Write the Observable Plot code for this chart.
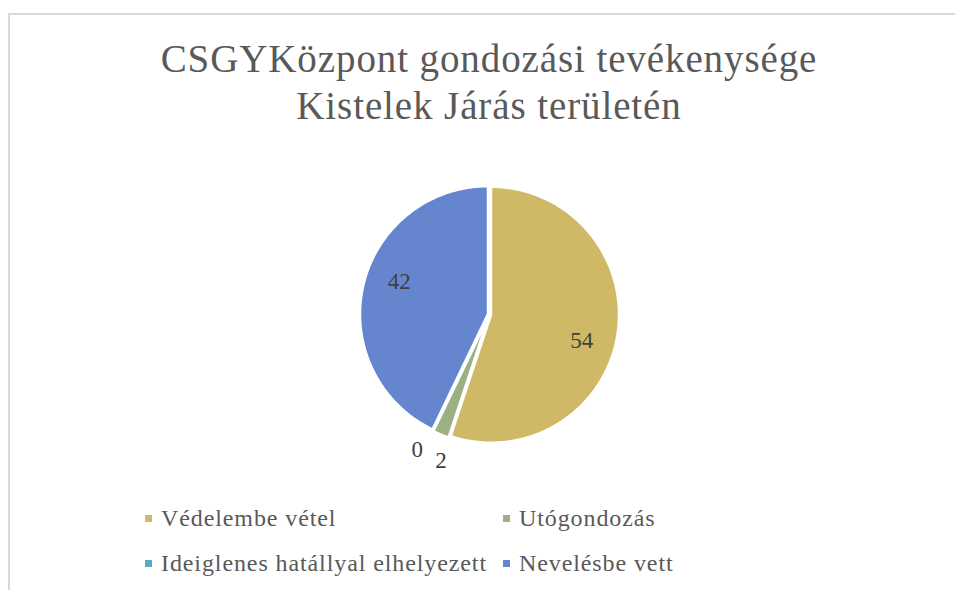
<!DOCTYPE html>
<html><head><meta charset="utf-8">
<script src="https://cdn.jsdelivr.net/npm/d3@7"></script>
<script src="https://cdn.jsdelivr.net/npm/@observablehq/plot@0.6"></script>
<style>
html,body{margin:0;padding:0;background:#fff;overflow:hidden;}
#wrap{width:955px;height:590px;overflow:hidden;position:relative;font-family:"Liberation Serif",serif;}
#frame{position:absolute;left:8px;top:13px;width:990px;height:620px;border-left:2px solid #d9d9d9;border-top:2px solid #d9d9d9;}
#title{position:absolute;left:0;width:978px;top:35px;text-align:center;color:#595959;font-size:39px;line-height:47px;letter-spacing:0.9px;}
#chart{position:absolute;left:0;top:0;}
#legend{position:absolute;left:145px;top:500px;display:grid;grid-template-columns:358px 300px;row-gap:8px;color:#595959;font-size:24px;line-height:37px;letter-spacing:0.9px;}
.item{display:flex;align-items:center;white-space:nowrap;}
.sw{width:7px;height:7px;margin-right:9px;flex:none;}
</style></head>
<body>
<div id="wrap">
<div id="frame"></div>
<div id="title">CSGYKözpont gondozási tevékenysége<br>Kistelek Járás területén</div>
<div id="chart"></div>
<div id="legend"></div>
</div>
<script>
const categories = ["Védelembe vétel", "Utógondozás", "Ideiglenes hatállyal elhelyezett", "Nevelésbe vett"];
const values = [54, 2, 0, 42];
const colors = ["#CFB966", "#9CB183", "#5BAAC8", "#6586CF"];

const arcs = d3.pie().sort(null).value(d => d.value)(categories.map((c, i) => ({cat: c, value: values[i]})));
const explode = 0.012;
const polys = [];
const labels = [];
for (const a of arcs) {
  const mid = (a.startAngle + a.endAngle) / 2;
  const ox = explode * Math.sin(mid), oy = explode * Math.cos(mid);
  if (a.endAngle > a.startAngle) {
    polys.push({cat: a.data.cat, x: ox, y: oy});
    const n = Math.max(2, Math.ceil((a.endAngle - a.startAngle) / 0.02));
    for (let k = 0; k <= n; k++) {
      const t = a.startAngle + (a.endAngle - a.startAngle) * k / n;
      polys.push({cat: a.data.cat, x: ox + Math.sin(t), y: oy + Math.cos(t)});
    }
    polys.push({cat: a.data.cat, x: ox, y: oy});
  }
  const share = a.data.value / d3.sum(values);
  const small = share < 0.05;
  const r = small ? 1.2 : 0.75;
  const ang = small ? a.startAngle + (a.endAngle === a.startAngle ? 0.04 : 0) : mid + 0.12;
  labels.push({x: r * Math.sin(ang), y: r * Math.cos(ang), text: String(a.data.value)});
}

const chart = Plot.plot({
  width: 955, height: 590,
  margin: 0,
  x: {domain: [-1, 1], range: [361, 617], axis: null},
  y: {domain: [-1, 1], range: [442, 186], axis: null},
  color: {domain: categories, range: colors},
  style: {background: "transparent", fontFamily: "Liberation Serif, serif"},
  marks: [
    Plot.line(polys, {x: "x", y: "y", z: "cat", fill: "cat", stroke: "white", strokeWidth: 2.5, curve: "linear-closed"}),
    Plot.text(labels, {x: "x", y: "y", text: "text", fontSize: 23, fill: "#404040"})
  ]
});
document.getElementById("chart").appendChild(chart);

const lg = document.getElementById("legend");
categories.forEach((c, i) => {
  const it = document.createElement("div");
  it.className = "item";
  it.innerHTML = `<span class="sw" style="background:${colors[i]}"></span><span>${c}</span>`;
  lg.appendChild(it);
});
</script>
</body></html>
